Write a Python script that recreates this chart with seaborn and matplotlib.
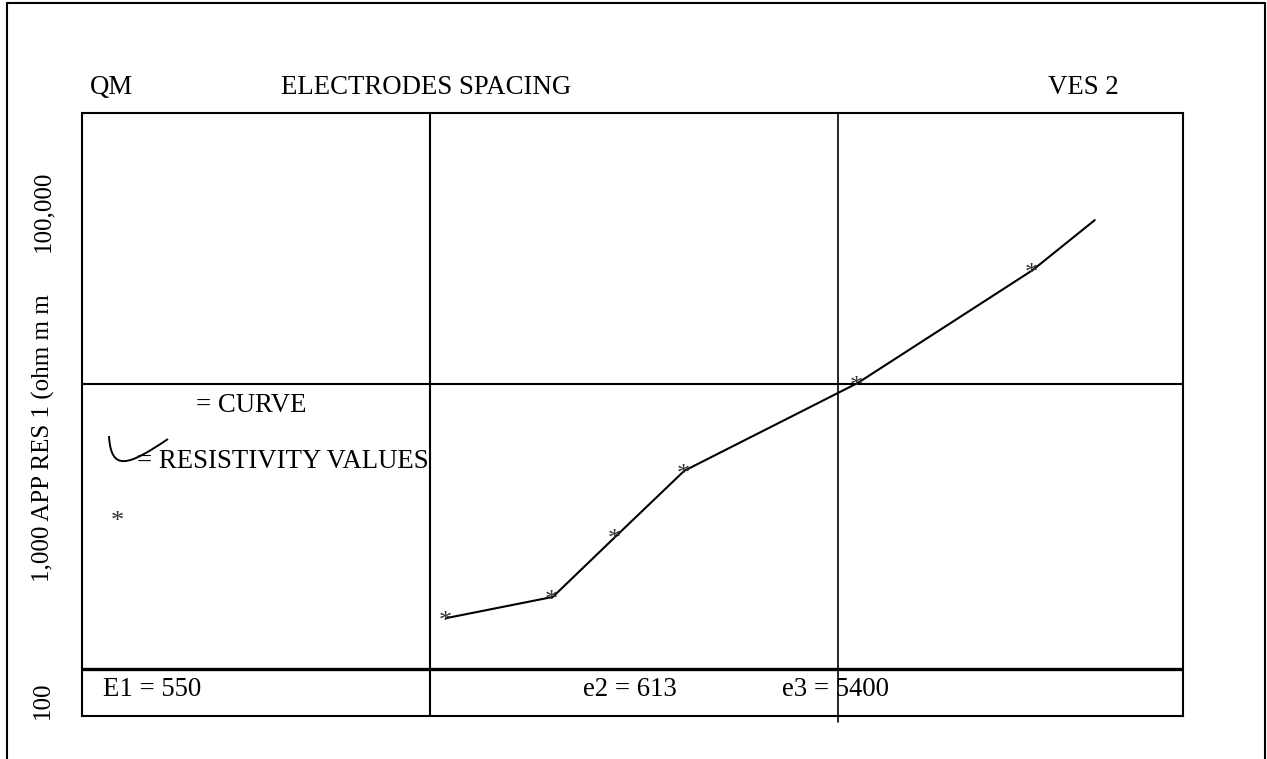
import seaborn as sns
import matplotlib.pyplot as plt
import pandas as pd
from matplotlib.path import Path
from matplotlib.patches import PathPatch
from matplotlib.lines import Line2D

# Dados da sondagem (VES 2)
espacamento = [11, 20, 28.6, 42, 112, 300, 426]
resistividade = [151, 179, 293, 496, 1010, 2510, 3760]
n_pontos = 6  # o último ponto da curva não tem asterisco

rotulos_topo = ["QM", "ELECTRODES SPACING", "VES 2"]
rotulos_eixo = ["100,000", "1,000 APP RES 1 (ohm m m", "100"]
camadas = ["E1 = 550", "e2 = 613", "e3 = 5400"]
legenda = ["= CURVE", "= RESISTIVITY VALUES", "*"]

df = pd.DataFrame({"ab2": espacamento, "rho": resistividade})

sns.set_theme(style="white")
plt.rcParams["font.family"] = ["Liberation Serif", "DejaVu Serif"]
plt.rcParams["text.color"] = "black"

W, H = 1267, 759
fig = plt.figure(figsize=(W / 100, H / 100), dpi=100)


def px(x, y):
    # pixel da imagem -> fração da figura
    return x / W, 1 - y / H


ax = fig.add_axes([82 / W, (H - 716) / H, (1183 - 82) / W, (716 - 113) / H])
ax.set_xscale("log")
ax.set_yscale("log")
ax.set_xlim(1.403, 700.9)
ax.set_ylim(68.4, 8933)

sns.lineplot(data=df, x="ab2", y="rho", ax=ax, color="black", linewidth=1.5,
             sort=False, estimator=None)

# Asteriscos dos valores medidos
for x, y in zip(espacamento[:n_pontos], resistividade[:n_pontos]):
    ax.annotate("*", (x, y), xytext=(-1, -7), textcoords="offset points",
                ha="center", va="baseline", fontsize=19, color="#333333")

# Linhas da grade / tabela
ax.axvline(10, color="black", lw=1.5)
ax.axvline(100, ymin=-0.01, color="black", lw=1.2, clip_on=False)
ax.axhline(1000, color="black", lw=1.5)
ax.axhline(100, color="black", lw=2.4)

for s in ax.spines.values():
    s.set_color("black")
    s.set_linewidth(1.5)
ax.set_xticks([], minor=True)
ax.set_yticks([], minor=True)
ax.set_xticks([])
ax.set_yticks([])
ax.set_xlabel("")
ax.set_ylabel("")

# Moldura externa
for (x0, y0), (x1, y1) in [((7, 3), (1265, 3)), ((7, 3), (7, 759)), ((1265, 3), (1265, 759))]:
    a, b = px(x0, y0)
    c, d = px(x1, y1)
    fig.add_artist(Line2D([a, c], [b, d], color="black", lw=1.5))

fs = 19.3
# Cabeçalho
for txt, xp in zip(rotulos_topo, [90, 281, 1048]):
    fig.text(*px(xp, 88), txt, fontsize=fs, ha="left", va="center")

# Rótulos do eixo vertical
for txt, yp in zip(rotulos_eixo, [211, 438, 700]):
    fig.text(*px(43, yp), txt, fontsize=18, rotation=90, ha="center", va="center")

# Camadas
for txt, xp in zip(camadas, [103, 583, 782]):
    fig.text(*px(xp, 690), txt, fontsize=fs, ha="left", va="center")

# Legenda
fig.text(*px(196, 406), legenda[0], fontsize=fs, ha="left", va="center")
fig.text(*px(137, 461), legenda[1], fontsize=fs, ha="left", va="center")
fig.text(*px(117, 522), legenda[2], fontsize=19, ha="center", va="center", color="#333333")

verts = [px(109, 436), px(111, 472), px(128, 466), px(168, 439)]
swoosh = Path(verts, [Path.MOVETO, Path.CURVE4, Path.CURVE4, Path.CURVE4])
fig.add_artist(PathPatch(swoosh, fill=False, edgecolor="black", lw=1.4,
                         transform=fig.transFigure))

plt.savefig("out.png", dpi=100)
